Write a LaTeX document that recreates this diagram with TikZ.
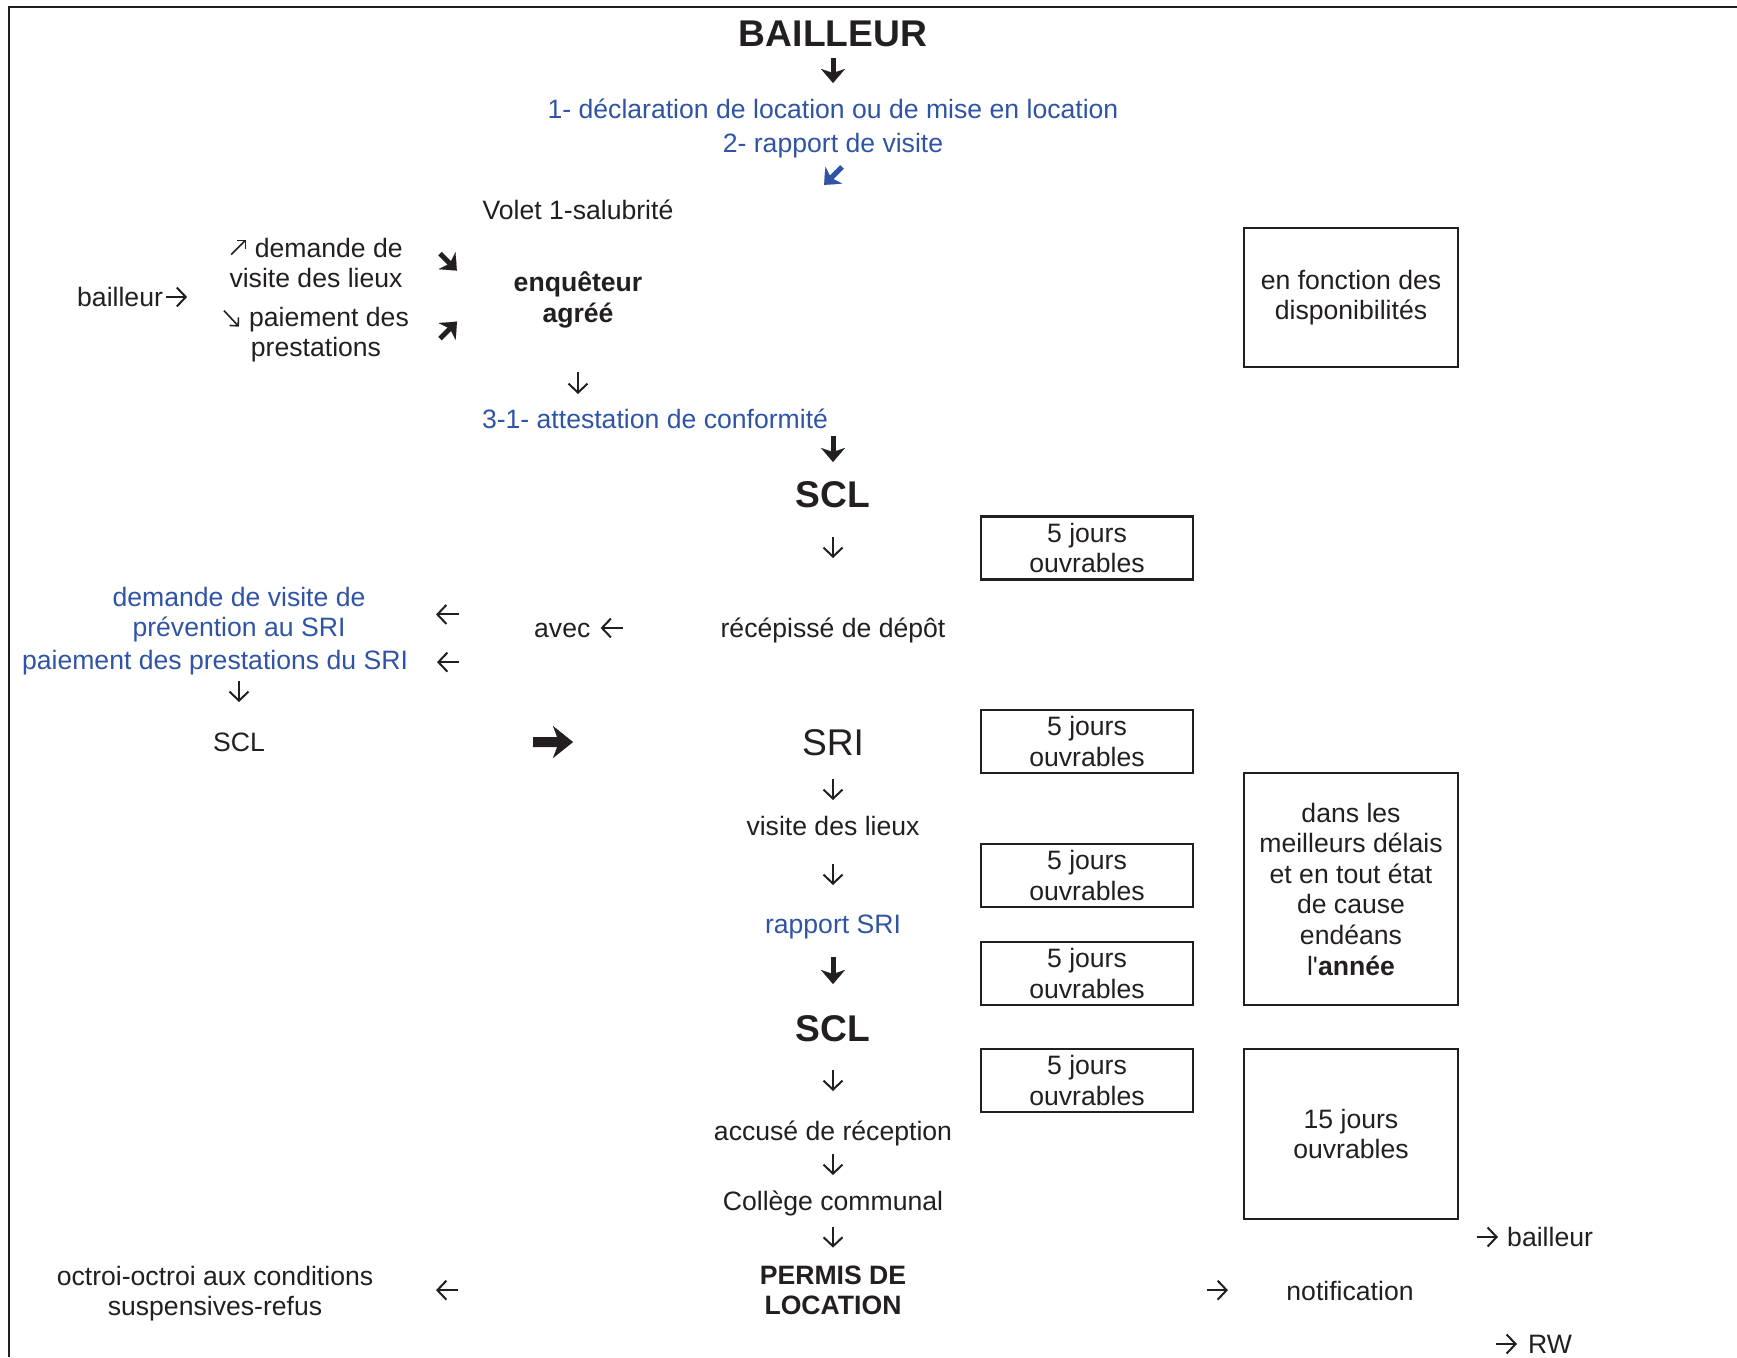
\documentclass[tikz,border=0pt]{standalone}
\usepackage{fontspec}
\setmainfont{Liberation Sans}
\usetikzlibrary{arrows.meta}

\definecolor{ink}{RGB}{35,31,32}
\definecolor{darkblue}{RGB}{47,84,165}
\newcommand{\normtxt}{\fontsize{26.6}{30.6}\selectfont}
\newcommand{\bigtxt}{\fontsize{37.2}{42.8}\selectfont}

\begin{document}
\begin{tikzpicture}[
		x=1pt, y=-1pt,
		lbl/.style={anchor=base, inner sep=0pt, align=center, font=\normtxt, text=ink},
		title/.style={lbl, font=\bigtxt\bfseries},
		bluetxt/.style={lbl, text=darkblue},
		delay/.style={draw=ink, line width=2.2pt, inner sep=0pt, align=center, font=\normtxt, text=ink,
			minimum width=212pt, minimum height=63pt},
		thinarr/.style={-{Straight Barb[length=9pt,width=19pt]}, line width=2pt, ink},
		smallarr/.style={-{Straight Barb[length=6pt,width=12pt]}, line width=1.6pt, ink},
		thickarr/.style={-{Stealth[length=14pt,width=24pt,inset=4pt,line width=0.1pt]}, line width=5pt, ink},
		heavyarr/.style={-{Stealth[length=20pt,width=32pt,inset=6pt,line width=0.1pt]}, line width=10pt, ink}
		]
		\useasboundingbox (0,0) rectangle (1737,1357);
		\draw[line width=2pt, ink] (9,1357) -- (9,7) -- (1737,7);

		% main column
		\node[title] (bail) at (833,46) {BAILLEUR};
		\node[bluetxt] (decl) at (833,118) {1- déclaration de location ou de mise en location};
		\node[bluetxt] (rapv) at (833,152) {2- rapport de visite};
		\node[lbl] (volet) at (578,219) {Volet 1-salubrité};
		\node[lbl] (dem) at (316,287.6) {\hspace*{25.5pt}demande de\\visite des lieux};
		\node[lbl] (paie) at (316,356.6) {\hspace*{26pt}paiement des\\prestations};
		\node[lbl, anchor=base west] (bail2) at (77,306) {bailleur};
		\node[lbl, font=\normtxt\bfseries] (enq) at (578,322) {enquêteur\\agréé};
		\node[bluetxt] (att) at (655,428) {3-1- attestation de conformité};
		\node[title] (scl1) at (833,507) {SCL};
		\node[lbl] (rec) at (833,637) {récépissé de dépôt};
		\node[lbl, anchor=base west] (avec) at (534,637) {avec};
		\node[bluetxt] (prev) at (239,636.6) {demande de visite de\\prévention au SRI};
		\node[bluetxt] (paisri) at (215,669) {paiement des prestations du SRI};
		\node[lbl] (scl2) at (239,751) {SCL};
		\node[lbl, font=\bigtxt] (sri) at (833,755) {SRI};
		\node[lbl] (vis) at (833,835) {visite des lieux};
		\node[bluetxt] (rsri) at (833,933) {rapport SRI};
		\node[title] (scl3) at (833,1041) {SCL};
		\node[lbl] (acc) at (833,1140) {accusé de réception};
		\node[lbl] (col) at (833,1210) {Collège communal};
		\node[lbl, font=\normtxt\bfseries] (perm) at (833,1314.6) {PERMIS DE\\LOCATION};
		\node[lbl] (oct) at (215,1315.6) {octroi-octroi aux conditions\\suspensives-refus};
		\node[lbl] (notif) at (1350,1300) {notification};
		\node[lbl, anchor=base west] (tobail) at (1507,1246) {bailleur};
		\node[lbl, anchor=base west] (torw) at (1528,1353) {RW};

		% delays
		\node[delay] (d1) at (1087,548) {5 jours\\ouvrables};
		\node[delay] (d2) at (1087,741.5) {5 jours\\ouvrables};
		\node[delay] (d3) at (1087,875.5) {5 jours\\ouvrables};
		\node[delay] (d4) at (1087,973.5) {5 jours\\ouvrables};
		\node[delay] (d5) at (1087,1080.5) {5 jours\\ouvrables};
		\node[delay, minimum width=214pt, minimum height=139pt] (dispo) at (1351,297.5) {en fonction des\\disponibilités};
		\node[delay, minimum width=214pt, minimum height=232pt] (delais) at (1351,889) {dans les\\meilleurs délais\\et en tout état\\de cause\\endéans\\l\textquotesingle\textbf{année}};
		\node[delay, minimum width=214pt, minimum height=170pt] (quinze) at (1351,1134) {15 jours\\ouvrables};

		% arrows
		\draw[thickarr, shorten <=12pt, shorten >=35pt] (bail.base) -- (decl.base);
		\draw[thickarr, darkblue] ([shift={(9,15)}]rapv.base) -- ++(-18,18);
		\draw[smallarr] ([shift={(2,-33)}]dem.base west) -- ++(15,-15);
		\draw[smallarr] ([shift={(1,-46)}]paie.base west) -- ++(15,16);
		\draw[thinarr] ([shift={(3,-9)}]bail2.base east) -- ++(21,0);
		\draw[thickarr] ([shift={(37,-34)}]dem.base east) -- ++(17,17);
		\draw[thickarr] ([shift={(31,-18)}]paie.base east) -- ++(17,-17);
		\draw[thinarr, shorten <=50pt, shorten >=34pt] (enq.base) -- (enq.base |- att.base);
		\draw[thickarr, shorten <=8pt, shorten >=45pt] (att.base -| scl1.base) -- (scl1.base);
		\draw[thinarr, shorten <=30pt, shorten >=79pt] (scl1.base) -- (rec.base);
		\draw[thinarr] ([shift={(32,-9)}]avec.base east) -- ++(-22,0);
		\draw[thinarr, shorten <=75pt, shorten >=197pt] (prev.center -| avec.west) -- (prev.center);
		\draw[thinarr, shorten <=75pt, shorten >=222pt] (paisri.center -| avec.west) -- (paisri.center);
		\draw[thinarr, shorten <=12pt, shorten >=49pt] (paisri.base -| scl2.base) -- (scl2.base);
		\draw[heavyarr, shorten <=294pt, shorten >=260pt] (scl2.center) -- (sri.center);
		\draw[thinarr, shorten <=24pt, shorten >=35pt] (sri.base) -- (vis.base);
		\draw[thinarr, shorten <=29pt, shorten >=48pt] (vis.base) -- (rsri.base);
		\draw[thickarr, shorten <=24pt, shorten >=57pt] (rsri.base) -- (scl3.base);
		\draw[thinarr, shorten <=29pt, shorten >=49pt] (scl3.base) -- (acc.base);
		\draw[thinarr, shorten <=14pt, shorten >=35pt] (acc.base) -- (col.base);
		\draw[thinarr, shorten <=17pt, shorten >=67pt] (col.base) -- (perm.base);
		\draw[thinarr, shorten <=375pt, shorten >=221pt] (perm.center) -- (perm.center -| oct.center);
		\draw[thinarr, shorten <=374pt, shorten >=122pt] (perm.center) -- (perm.center -| notif.center);
		\draw[thinarr] ([shift={(-30,-9)}]tobail.base west) -- ++(21,0);
		\draw[thinarr] ([shift={(-32,-9)}]torw.base west) -- ++(21,0);
	\end{tikzpicture}
\end{document}
